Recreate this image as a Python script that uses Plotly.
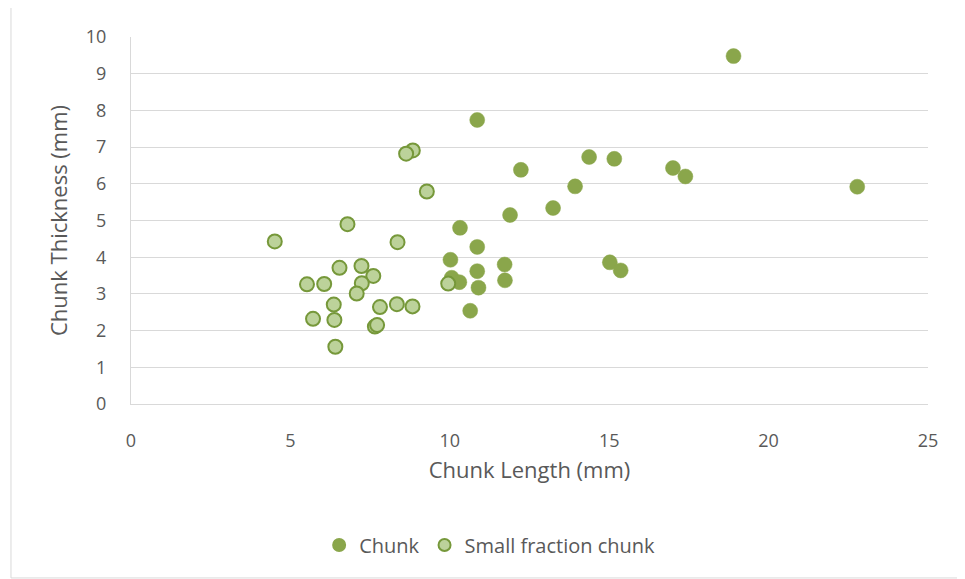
import plotly.graph_objects as go

chunk_x = [18.9, 14.37, 15.16, 17.0, 17.39, 22.78, 15.02, 15.36, 13.93, 12.23, 13.24, 11.89,
           10.32, 10.86, 10.02, 11.72, 10.86, 10.06, 10.30, 11.73, 10.90, 10.64, 10.86]
chunk_y = [9.48, 6.73, 6.68, 6.43, 6.20, 5.92, 3.86, 3.64, 5.93, 6.38, 5.34, 5.15,
           4.80, 4.28, 3.93, 3.80, 3.62, 3.44, 3.32, 3.37, 3.17, 2.54, 7.74]

small_x = [8.84, 8.63, 9.28, 8.36, 9.95, 8.34, 8.83, 6.79, 4.51, 6.54, 7.23, 7.60,
           5.52, 6.06, 7.24, 7.08, 6.36, 7.81, 5.71, 6.38, 7.65, 7.72, 6.41]
small_y = [6.91, 6.82, 5.79, 4.41, 3.28, 2.72, 2.66, 4.90, 4.43, 3.71, 3.76, 3.49,
           3.26, 3.27, 3.29, 3.01, 2.71, 2.64, 2.32, 2.29, 2.11, 2.15, 1.56]

x_ticks = [0, 5, 10, 15, 20, 25]
y_ticks = [0, 1, 2, 3, 4, 5, 6, 7, 8, 9, 10]

FONT = "Open Sans"
TXT = "#595959"

fig = go.Figure()
fig.add_trace(go.Scatter(
    x=chunk_x, y=chunk_y, mode="markers", name="Chunk",
    marker=dict(size=15, color="#8aa64b", line=dict(width=0.5, color="#8aa64b")),
))
fig.add_trace(go.Scatter(
    x=small_x, y=small_y, mode="markers", name="Small fraction chunk",
    marker=dict(size=14, color="#bcd29a", line=dict(width=2, color="#76983a")),
))

fig.update_layout(
    width=965, height=579,
    margin=dict(l=123, r=45, t=29, b=183),
    paper_bgcolor="white", plot_bgcolor="white",
    font=dict(family=FONT, color=TXT, size=18),
    showlegend=True,
    legend=dict(orientation="h", x=0.45, xanchor="center", y=-0.384, yanchor="middle",
                font=dict(size=20, color=TXT), itemsizing="constant"),
    xaxis=dict(range=[0, 25], tickvals=x_ticks, showgrid=False, zeroline=False,
               showline=True, linecolor="#d9d9d9", linewidth=1,
               ticks="outside", ticklen=20, tickcolor="rgba(0,0,0,0)",
               tickfont=dict(size=18, color=TXT),
               title=dict(text="Chunk Length (mm)", font=dict(size=22, color=TXT), standoff=12)),
    yaxis=dict(range=[0, 10], tickvals=y_ticks, showgrid=True, gridcolor="#d9d9d9", gridwidth=1,
               zeroline=False, showline=True, linecolor="#d9d9d9", linewidth=1,
               ticks="outside", ticklen=20, tickcolor="rgba(0,0,0,0)",
               tickfont=dict(size=18, color=TXT),
               title=dict(text="Chunk Thickness (mm)", font=dict(size=22, color=TXT), standoff=12)),
    shapes=[dict(type="rect", xref="paper", yref="paper",
                 x0=-0.1506, x1=1.0376, y0=-0.474, y1=1.0817,
                 line=dict(color="#d9d9d9", width=1), fillcolor="rgba(0,0,0,0)", layer="below")],
)

fig.write_html("out.html")
